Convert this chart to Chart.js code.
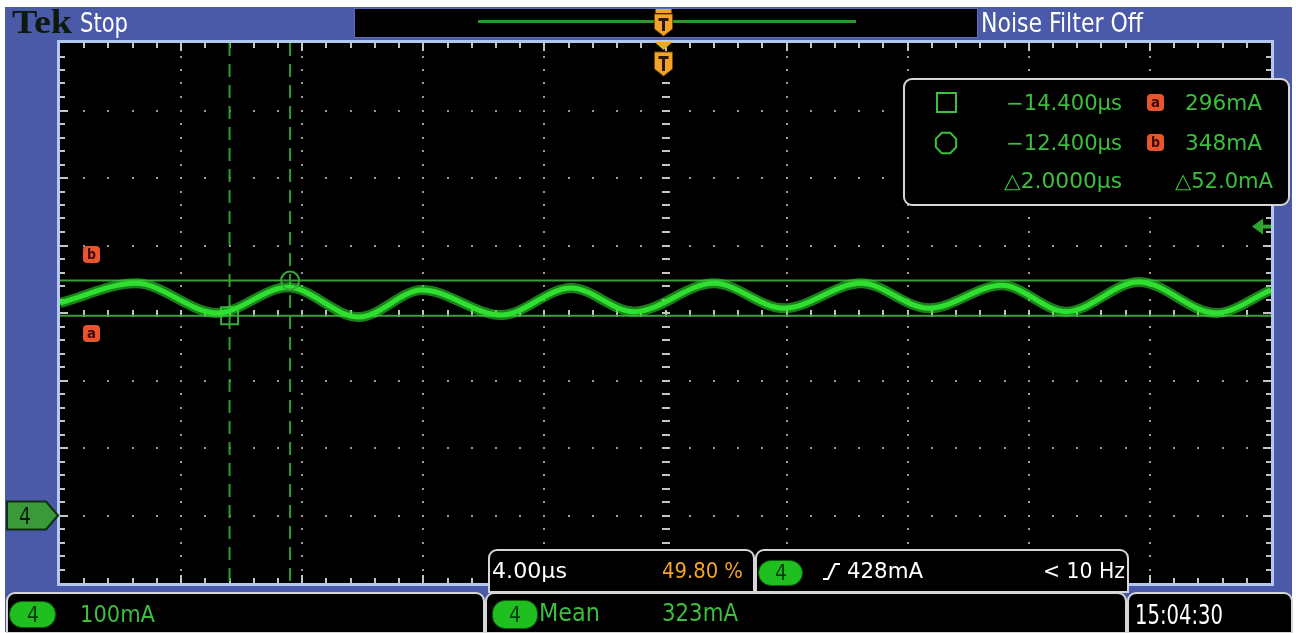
<!DOCTYPE html>
<html>
<head>
<meta charset="utf-8">
<script src="https://cdn.jsdelivr.net/npm/chart.js@4.4.0/dist/chart.umd.min.js"></script>
<style>
html, body { margin: 0; padding: 0; background: #fff; width: 1296px; height: 633px; overflow: hidden; }
#frame { position: absolute; left: 5px; top: 7px; width: 1287px; height: 625px; background: #4a5aa8; }
#scope { position: absolute; left: 0; top: 0; }
.t { position: absolute; white-space: nowrap; line-height: 1; transform-origin: 0 0; }
.pill { position: absolute; background: #1fbf1f; border: 1px solid #0d5a0d; border-radius: 13px; box-sizing: border-box; }
.badge { position: absolute; background: #e8542c; border-radius: 4px; }
</style>
</head>
<body>
<div id="frame"></div>
<canvas id="scope" width="1296" height="633"></canvas>
<div id="ov"></div>
<script>
// Scope settings: 4.00us/div, 100mA/div, 10 x 8 divisions
const timeRange = [-20, 20];
const currentRange = [-100, 700];
const timeStep = 4;
const currentStep = 100;

// Channel 4 trace (us, mA) - peaks and troughs
const traceTime = [-20, -17.49, -14.81, -12.48, -10.12, -8.04, -5.43, -3.12, -1.04, 1.60, 3.91, 6.46, 8.70, 11.11, 13.23, 15.64, 18.18, 20];
const traceCurrent = [315, 344, 300, 338, 294, 334, 297, 337, 302, 344, 307, 344, 307, 341, 302, 346, 300, 334];

// Cursors
const cursorTime = [-14.4, -12.4];
const cursorCurrent = [296, 348];
const triggerLevel = 428;
const groundLevel = 0;

var GREEN = "#3cbf3c";
var ORANGE = "#f2a32a";

function pts(xs, ys) {
  return xs.map((x, i) => ({x: x, y: ys[i]}));
}

function roundBox(c, l, t, r, b, rad, topOnly) {
  c.beginPath();
  c.moveTo(l + rad, t);
  c.lineTo(r - rad, t);
  c.arcTo(r, t, r, t + rad, rad);
  if (topOnly) {
    c.lineTo(r, b); c.lineTo(l, b);
  } else {
    c.lineTo(r, b - rad); c.arcTo(r, b, r - rad, b, rad);
    c.lineTo(l + rad, b); c.arcTo(l, b, l, b - rad, rad);
  }
  c.lineTo(l, t + rad);
  c.arcTo(l, t, l + rad, t, rad);
  c.closePath();
  c.fillStyle = "#000";
  c.fill();
  c.strokeStyle = "#d6d6d6";
  c.lineWidth = 2;
  c.stroke();
}

// Graticule, border, markers
const scopePlugin = {
  id: "scope",
  beforeDatasetsDraw(chart) {
    const c = chart.ctx, a = chart.chartArea;
    const xs = chart.scales.x, ys = chart.scales.y;
    c.save();
    c.fillStyle = "#000";
    c.fillRect(a.left, a.top, a.right - a.left, a.bottom - a.top);

    const minorX = timeStep / 5, minorY = currentStep / 5;
    // dots along major lines
    c.fillStyle = "#9a9a9a";
    for (var t = timeRange[0] + timeStep; t < timeRange[1]; t += timeStep) {
      if (Math.abs(t) < 1e-6) continue;
      var px = Math.round(xs.getPixelForValue(t));
      for (var v = currentRange[0] + minorY; v < currentRange[1]; v += minorY) {
        c.fillRect(px - 1, Math.round(ys.getPixelForValue(v)) - 1, 2, 2);
      }
    }
    for (var v = currentRange[0] + currentStep; v < currentRange[1]; v += currentStep) {
      if (Math.abs(v - 300) < 1e-6) continue;
      var py = Math.round(ys.getPixelForValue(v));
      for (var t = timeRange[0] + minorX; t < timeRange[1] - 1e-6; t += minorX) {
        c.fillRect(Math.round(xs.getPixelForValue(t)) - 1, py - 1, 2, 2);
      }
    }
    // center cross ticks
    c.fillStyle = "#c4c4c4";
    var cx = Math.round(xs.getPixelForValue(0));
    var cy = Math.round(ys.getPixelForValue(300));
    for (var v = currentRange[0] + minorY; v < currentRange[1]; v += minorY) {
      c.fillRect(cx - 4, Math.round(ys.getPixelForValue(v)) - 1, 8, 2);
    }
    for (var t = timeRange[0] + minorX; t < timeRange[1] - 1e-6; t += minorX) {
      c.fillRect(Math.round(xs.getPixelForValue(t)) - 1, cy - 3, 2, 7);
    }
    // edge ticks
    for (var i = 1; i < 50; i++) {
      var t = timeRange[0] + i * minorX;
      var px = Math.round(xs.getPixelForValue(t));
      var len = (i % 5 == 0) ? 8 : 5;
      c.fillRect(px - 1, a.top, 2, len);
      c.fillRect(px - 1, a.bottom - len, 2, len);
    }
    for (var i = 1; i < 40; i++) {
      var v = currentRange[0] + i * minorY;
      var py = Math.round(ys.getPixelForValue(v));
      var len = (i % 5 == 0) ? 8 : 5;
      c.fillRect(a.left, py - 1, len, 2);
      c.fillRect(a.right - len, py - 1, len, 2);
    }
    c.restore();
  },
  afterDraw(chart) {
    const c = chart.ctx, a = chart.chartArea;
    const xs = chart.scales.x, ys = chart.scales.y;
    c.save();
    // plot border
    c.strokeStyle = "#b3c8ee";
    c.lineWidth = 3;
    c.strokeRect(a.left - 1.5, a.top - 1.5, a.right - a.left + 3, a.bottom - a.top + 3);

    // readout boxes
    roundBox(c, 904, 79, 1289, 205, 8, false);
    roundBox(c, 489, 550, 754, 592, 8, true);
    roundBox(c, 756, 550, 1128, 592, 8, true);
    roundBox(c, 7, 593, 484, 633, 8, true);
    roundBox(c, 486, 593, 1126, 633, 8, true);
    roundBox(c, 1128, 593, 1292, 633, 8, true);
    // top position box
    c.fillStyle = "#000";
    c.fillRect(354, 8, 624, 30);
    c.strokeStyle = "#5d6dbb";
    c.lineWidth = 1;
    c.strokeRect(354.5, 8.5, 623, 29);

    // channel 4 ground marker
    var gy = ys.getPixelForValue(groundLevel);
    c.fillStyle = "#3a9a3a";
    c.strokeStyle = "#0f2f0f";
    c.lineWidth = 2;
    c.beginPath();
    c.moveTo(7, gy - 14); c.lineTo(46, gy - 14); c.lineTo(58, gy); c.lineTo(46, gy + 14); c.lineTo(7, gy + 14);
    c.closePath(); c.fill(); c.stroke();

    // trigger level arrow
    var ty = ys.getPixelForValue(triggerLevel);
    c.fillStyle = "#2fa52f";
    c.beginPath();
    c.moveTo(1252, ty); c.lineTo(1263, ty - 8); c.lineTo(1263, ty + 8); c.closePath(); c.fill();
    c.fillRect(1262, ty - 2, 9, 4);

    // trigger position markers
    var tx = xs.getPixelForValue(0) - 2;
    function shield(x, y0, y1) {
      c.fillStyle = ORANGE;
      c.strokeStyle = "#7a4a00";
      c.lineWidth = 1;
      c.beginPath();
      c.moveTo(x - 9, y0); c.lineTo(x + 9, y0); c.lineTo(x + 9, y1 - 7); c.lineTo(x, y1); c.lineTo(x - 9, y1 - 7);
      c.closePath(); c.fill(); c.stroke();
      c.fillStyle = "#2a1800";
      c.fillRect(x - 5, y0 + 4, 10, 3);
      c.fillRect(x - 1.5, y0 + 4, 3, y1 - y0 - 9);
    }
    c.fillStyle = ORANGE;
    c.beginPath();
    c.moveTo(tx - 9, 42); c.lineTo(tx + 9, 42); c.lineTo(tx, 50); c.closePath(); c.fill();
    shield(tx, 52, 76);
    // horizontal position bar in the top box
    c.fillStyle = "#2a9a2a";
    c.fillRect(478, 20, 378, 3);
    c.fillStyle = ORANGE;
    c.fillRect(tx - 8, 9, 16, 4);
    shield(tx, 14, 36);

    // rising edge symbol
    c.strokeStyle = "#fff";
    c.lineWidth = 2;
    c.beginPath();
    c.moveTo(823, 579); c.lineTo(828, 579); c.lineTo(835, 564); c.lineTo(840, 564);
    c.stroke();

    // readout icons
    c.strokeStyle = GREEN;
    c.lineWidth = 2;
    c.strokeRect(937, 93, 19, 19);
    c.beginPath();
    var ox = 946, oy = 143, r = 11;
    for (var k = 0; k < 8; k++) {
      var ang = Math.PI / 8 + k * Math.PI / 4;
      var px = ox + r * Math.cos(ang), py = oy + r * Math.sin(ang);
      if (k == 0) c.moveTo(px, py); else c.lineTo(px, py);
    }
    c.closePath(); c.stroke();
    c.restore();
  }
};

var ctx = document.getElementById("scope").getContext("2d");
new Chart(ctx, {
  type: "scatter",
  data: {
    datasets: [
      { // vertical cursor 1
        data: [{x: cursorTime[0], y: currentRange[1]}, {x: cursorTime[0], y: currentRange[0]}],
        showLine: true, borderColor: "#2b9f2b", borderWidth: 2, borderDash: [13, 8], pointRadius: 0, order: 6
      },
      { // vertical cursor 2
        data: [{x: cursorTime[1], y: currentRange[1]}, {x: cursorTime[1], y: currentRange[0]}],
        showLine: true, borderColor: "#2b9f2b", borderWidth: 2, borderDash: [13, 8], pointRadius: 0, order: 6
      },
      { // cursor a
        data: [{x: timeRange[0], y: cursorCurrent[0]}, {x: timeRange[1], y: cursorCurrent[0]}],
        showLine: true, borderColor: "#3a9f3a", borderWidth: 2, pointRadius: 0, order: 5
      },
      { // cursor b
        data: [{x: timeRange[0], y: cursorCurrent[1]}, {x: timeRange[1], y: cursorCurrent[1]}],
        showLine: true, borderColor: "#3a9f3a", borderWidth: 2, pointRadius: 0, order: 5
      },
      { // square marker
        data: [{x: cursorTime[0], y: cursorCurrent[0]}],
        pointStyle: "rect", pointRadius: 12, pointBorderWidth: 2,
        pointBorderColor: "#3aa83a", pointBackgroundColor: "rgba(0,0,0,0)", order: 4
      },
      { // trace halo
        data: pts(traceTime, traceCurrent),
        showLine: true, cubicInterpolationMode: "monotone",
        borderColor: "rgba(45,215,45,0.6)", borderWidth: 10, pointRadius: 0, order: 3
      },
      { // trace
        data: pts(traceTime, traceCurrent),
        showLine: true, cubicInterpolationMode: "monotone",
        borderColor: "#30e030", borderWidth: 5, pointRadius: 0, order: 2
      },
      { // circle marker
        data: [{x: cursorTime[1], y: cursorCurrent[1]}],
        pointStyle: "circle", pointRadius: 9, pointBorderWidth: 2,
        pointBorderColor: "#3aa83a", pointBackgroundColor: "rgba(0,0,0,0)", order: 1
      }
    ]
  },
  options: {
    responsive: false,
    animation: false,
    events: [],
    layout: { padding: { left: 60, right: 25, top: 43, bottom: 50 } },
    plugins: { legend: { display: false }, tooltip: { enabled: false } },
    scales: {
      x: { type: "linear", min: timeRange[0], max: timeRange[1], display: false },
      y: { type: "linear", min: currentRange[0], max: currentRange[1], display: false }
    }
  },
  plugins: [scopePlugin]
});

// ---- overlay text ----
var ov = document.getElementById("ov");
var FONTS = {
  sans: { family: '"Liberation Sans Narrow", "DejaVu Sans Condensed", sans-serif', cap: 0.729, top: 0.1175 },
  serif: { family: '"Liberation Serif", serif', cap: 0.662, top: 0.1755 }
};

function div(cls, l, t, r, b) {
  var d = document.createElement("div");
  d.className = cls;
  d.style.left = l + "px"; d.style.top = t + "px";
  d.style.width = (r - l) + "px"; d.style.height = (b - t) + "px";
  ov.appendChild(d);
  return d;
}

function label(str, l, r, capT, capB, color, font, weight) {
  var f = FONTS[font || "sans"];
  var fs = (capB - capT) / f.cap;
  var s = document.createElement("span");
  s.className = "t";
  s.textContent = str;
  s.style.fontFamily = f.family;
  s.style.fontSize = fs + "px";
  s.style.fontWeight = weight || "normal";
  s.style.color = color;
  s.style.left = l + "px";
  s.style.top = (capT - f.top * fs) + "px";
  ov.appendChild(s);
  var w = s.getBoundingClientRect().width;
  s.style.transform = "scaleX(" + ((r - l) / w) + ")";
  return s;
}

function pill(l, t, r, b) {
  div("pill", l, t, r, b);
  var cx = (l + r) / 2, cy = (t + b) / 2;
  label("4", cx - 6, cx + 6, cy - 8, cy + 8, "#0c3a0c");
}

function badge(letter, l, t) {
  div("badge", l, t, l + 17, t + 17);
  label(letter, l + 4, l + 13, t + 4, t + 14, "#3a0800", "sans", "bold");
}

// top bar
label("Tek", 12, 72, 11, 33, "#0c1a0c", "serif", "bold");
label("Stop", 80, 128, 13, 32, "#ffffff");
label("Noise Filter Off", 981, 1143, 13, 32, "#ffffff");

// channel marker / cursor badges
label("4", 19, 31, 507, 524, "#0a1a0a");
badge("b", 83, 246);
badge("a", 83, 325);

// cursor readout
label("\u221214.400\u00b5s", 1006, 1122, 95, 110, GREEN);
label("296mA", 1185, 1262, 95, 110, GREEN);
label("\u221212.400\u00b5s", 1006, 1122, 135, 150, GREEN);
label("348mA", 1185, 1262, 135, 150, GREEN);
label("\u25b32.0000\u00b5s", 1004, 1122, 173, 188, GREEN);
label("\u25b352.0mA", 1175, 1273, 173, 188, GREEN);
badge("a", 1147, 94);
badge("b", 1147, 134);

// timebase / trigger readouts
label("4.00\u00b5s", 492, 567, 563, 579, "#ffffff");
label("49.80 %", 662, 743, 563, 579, ORANGE);
pill(758, 560, 803, 586);
label("428mA", 847, 923, 563, 579, "#ffffff");
label("< 10 Hz", 1043, 1125, 563, 579, "#ffffff");

// bottom row
pill(9, 601, 56, 628);
label("100mA", 80, 155, 605, 622, GREEN);
pill(492, 600, 538, 629);
label("Mean", 539, 600, 604, 622, GREEN);
label("323mA", 662, 738, 604, 622, GREEN);
label("15:04:30", 1135, 1223, 605, 624, "#ffffff");
</script>
</body>
</html>
